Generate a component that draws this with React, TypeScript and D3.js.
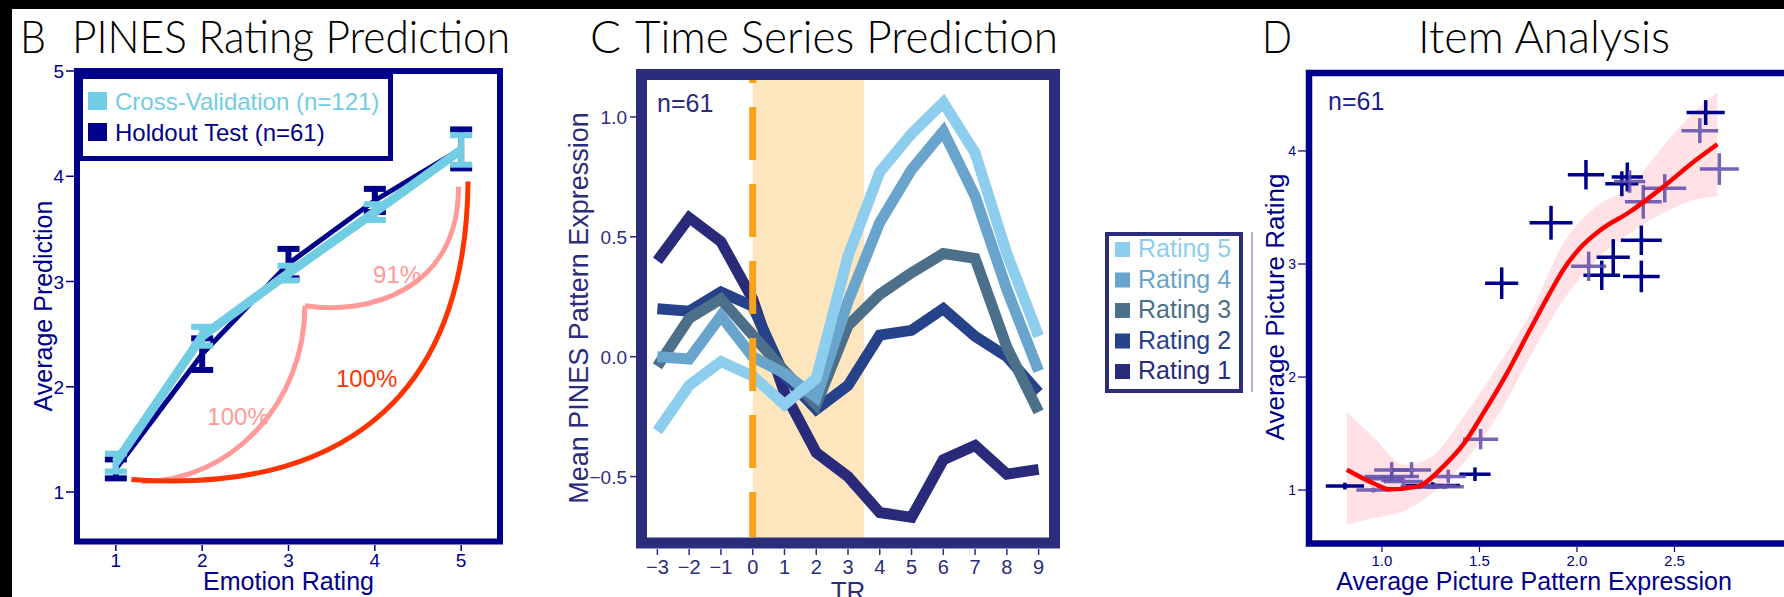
import React, { useEffect, useRef } from 'react';
import * as d3 from 'd3';

// ---------- panel B : rating prediction ----------
const ratings = [1, 2, 3, 4, 5];
const cvMean = [1.28, 2.48, 3.08, 3.66, 4.25];
const cvErr = [0.085, 0.09, 0.07, 0.075, 0.14];
const holdMean = [1.22, 2.31, 3.17, 3.77, 4.26];
const holdErr = [0.09, 0.15, 0.14, 0.11, 0.185];
const yTicksB = [1, 2, 3, 4, 5];
// bracket curves (cubic bezier control points, data units)
const redArc = [[1.18, 1.12], [3.2, 1.0], [5.05, 1.6], [5.08, 3.95]];
const pinkArcLow = [[1.3, 1.1], [2.34, 1.1], [3.19, 1.85], [3.19, 2.77]];
const pinkArcHigh = [[3.19, 2.77], [3.9, 2.68], [4.97, 2.9], [4.97, 3.9]];
const arcLabels = [
  { text: '91%', x: 3.98, y: 2.985, color: '#FF9A98' },
  { text: '100%', x: 2.06, y: 1.634, color: '#FF9A98' },
  { text: '100%', x: 3.55, y: 2.0, color: '#FF3300' },
];

// ---------- panel C : time series ----------
const trs = [-3, -2, -1, 0, 1, 2, 3, 4, 5, 6, 7, 8, 9];
const rating1 = [0.4, 0.58, 0.48, 0.24, -0.15, -0.4, -0.5, -0.65, -0.67, -0.43, -0.37, -0.49, -0.47];
const rating2 = [0.2, 0.19, 0.27, 0.21, -0.08, -0.22, -0.12, 0.09, 0.11, 0.2, 0.085, 0.0, -0.15];
const rating3 = [-0.04, 0.16, 0.24, 0.09, -0.06, -0.2, 0.13, 0.26, 0.35, 0.43, 0.41, 0.04, -0.23];
const rating4 = [0.0, -0.01, 0.17, 0.0, -0.07, -0.17, 0.23, 0.56, 0.78, 0.94, 0.67, 0.28, -0.06];
const rating5 = [-0.31, -0.12, -0.02, -0.08, -0.2, -0.09, 0.42, 0.77, 0.93, 1.06, 0.85, 0.43, 0.085];
const seriesNames = ['Rating 1', 'Rating 2', 'Rating 3', 'Rating 4', 'Rating 5'];
const seriesColors = ['#2A2A7B', '#26428A', '#4C7089', '#69A4CD', '#8DCDEE'];
const yTicksC = [-0.5, 0.0, 0.5, 1.0];
const stimWindow = [0, 3.5];

// ---------- panel D : item analysis ----------
const fitX = [0.82, 0.956, 1.04, 1.18, 1.315, 1.42, 1.52, 1.64, 1.76, 1.86, 1.93, 2.015, 2.12, 2.27, 2.44, 2.61, 2.72];
const fitY = [1.18, 1.06, 1.006, 1.03, 1.21, 1.41, 1.68, 2.03, 2.42, 2.74, 2.95, 3.14, 3.3, 3.46, 3.68, 3.92, 4.06];
const bandX = [0.82, 0.956, 1.12, 1.25, 1.42, 1.59, 1.76, 1.93, 2.1, 2.27, 2.44, 2.61, 2.72];
const bandLo = [0.69, 0.75, 0.82, 0.96, 1.24, 1.65, 2.18, 2.68, 3.04, 3.27, 3.45, 3.57, 3.6];
const bandHi = [1.69, 1.47, 1.22, 1.29, 1.65, 2.09, 2.56, 3.18, 3.51, 3.68, 4.04, 4.36, 4.52];
// [x, y, xErr, yErr]
const navyItems = [
  [2.66, 4.34, 0.098, 0.11],
  [2.046, 3.79, 0.093, 0.13],
  [2.258, 3.77, 0.08, 0.128],
  [2.23, 3.71, 0.085, 0.11],
  [1.867, 3.365, 0.11, 0.15],
  [2.33, 3.21, 0.105, 0.13],
  [2.186, 3.06, 0.085, 0.16],
  [2.127, 2.9, 0.094, 0.13],
  [2.33, 2.89, 0.094, 0.14],
  [1.614, 2.83, 0.085, 0.14],
  [1.477, 1.14, 0.08, 0.06],
  [0.81, 1.035, 0.098, 0.03],
  [1.26, 1.04, 0.14, 0.03],
];
const purpleItems = [
  [2.63, 4.18, 0.094, 0.11],
  [2.73, 3.84, 0.1, 0.14],
  [2.27, 3.73, 0.08, 0.1],
  [2.45, 3.67, 0.11, 0.125],
  [2.34, 3.55, 0.094, 0.15],
  [2.06, 2.98, 0.09, 0.13],
  [1.506, 1.45, 0.09, 0.09],
  [0.956, 1.0, 0.087, 0.02],
  [1.05, 1.177, 0.09, 0.07],
  [1.152, 1.177, 0.1, 0.07],
  [1.05, 1.12, 0.14, 0.04],
  [1.11, 1.075, 0.1, 0.03],
  [1.007, 1.1, 0.1, 0.03],
  [1.34, 1.12, 0.09, 0.06],
  [1.195, 1.03, 0.1, 0.02],
  [1.24, 1.03, 0.1, 0.02],
  [1.28, 1.035, 0.1, 0.02],
  [1.32, 1.03, 0.1, 0.02],
];
const xTicksD = [1.0, 1.5, 2.0, 2.5];
const yTicksD = [1, 2, 3, 4];

const SANS = '"Liberation Sans", Arial, Helvetica, sans-serif';
const TITLE = 'Lato, Roboto, sans-serif';

const App = () => {
  const ref = useRef<SVGSVGElement>(null);

  useEffect(() => {
    const svg = d3.select(ref.current);
    svg.selectAll('*').remove();
    svg.style('font-family', SANS);

    svg.append('rect').attr('width', 1784).attr('height', 597).attr('fill', '#fff');
    svg.append('rect').attr('width', 1784).attr('height', 9).attr('fill', '#000');
    svg.append('rect').attr('width', 12).attr('height', 597).attr('fill', '#000');

    // panel titles, widths matched to the figure
    const title = (x: number, text: string, w: number) =>
      svg.append('text').attr('x', x).attr('y', 53)
        .style('font-family', TITLE).style('font-weight', 300).style('font-size', '45px')
        .attr('textLength', w).attr('lengthAdjust', 'spacingAndGlyphs')
        .attr('fill', '#000').text(text);

    title(20, 'B', 26);
    title(72, 'PINES Rating Prediction', 438);
    title(590, 'C', 31);
    title(635, 'Time Series Prediction', 423);
    title(1262, 'D', 30);
    title(1418, 'Item Analysis', 252);

    // ================= B =================
    const navy = '#00008B';
    const cv = '#70CDE3';
    const xB = d3.scaleLinear().domain([0.55, 5.45]).range([77, 500]);
    const yB = d3.scaleLinear().domain([0.53, 5.0]).range([541.5, 71]);
    const gB = svg.append('g');

    const bez = (pts: number[][], xs: any, ys: any) =>
      `M${xs(pts[0][0])},${ys(pts[0][1])} C${pts.slice(1).map(p => `${xs(p[0])},${ys(p[1])}`).join(' ')}`;

    gB.append('path').attr('d', bez(pinkArcLow, xB, yB)).attr('fill', 'none')
      .attr('stroke', '#FF9A98').attr('stroke-width', 5);
    gB.append('path').attr('d', bez(pinkArcHigh, xB, yB)).attr('fill', 'none')
      .attr('stroke', '#FF9A98').attr('stroke-width', 5);
    gB.append('path').attr('d', bez(redArc, xB, yB)).attr('fill', 'none')
      .attr('stroke', '#FF3300').attr('stroke-width', 5);
    arcLabels.forEach(l => {
      gB.append('text').attr('x', xB(l.x)).attr('y', yB(l.y)).attr('fill', l.color)
        .style('font-size', '24px').text(l.text);
    });

    const lineB = d3.line<number>().x((d, i) => xB(ratings[i])).y(d => yB(d));
    const errBars = (mean: number[], err: number[], color: string) => {
      mean.forEach((m, i) => {
        const x = xB(ratings[i]);
        gB.append('line').attr('x1', x).attr('x2', x).attr('y1', yB(m - err[i])).attr('y2', yB(m + err[i]))
          .attr('stroke', color).attr('stroke-width', 6);
        [m - err[i], m + err[i]].forEach(v => {
          gB.append('line').attr('x1', x - 11).attr('x2', x + 11).attr('y1', yB(v)).attr('y2', yB(v))
            .attr('stroke', color).attr('stroke-width', 6);
        });
      });
    };
    gB.append('path').datum(holdMean).attr('d', lineB).attr('fill', 'none')
      .attr('stroke', navy).attr('stroke-width', 5);
    errBars(holdMean, holdErr, navy);
    gB.append('path').datum(cvMean).attr('d', lineB).attr('fill', 'none')
      .attr('stroke', cv).attr('stroke-width', 9);
    errBars(cvMean, cvErr, cv);

    gB.append('rect').attr('x', 77).attr('y', 71).attr('width', 423).attr('height', 470.5)
      .attr('fill', 'none').attr('stroke', navy).attr('stroke-width', 6);

    yTicksB.forEach(t => {
      gB.append('line').attr('x1', 66).attr('x2', 74).attr('y1', yB(t)).attr('y2', yB(t))
        .attr('stroke', navy).attr('stroke-width', 1.5);
      gB.append('text').attr('x', 64).attr('y', yB(t) + 7).attr('text-anchor', 'end')
        .attr('fill', navy).style('font-size', '19px').text(t);
    });
    ratings.forEach(t => {
      gB.append('line').attr('x1', xB(t)).attr('x2', xB(t)).attr('y1', 545).attr('y2', 551)
        .attr('stroke', navy).attr('stroke-width', 1.5);
      gB.append('text').attr('x', xB(t)).attr('y', 567).attr('text-anchor', 'middle')
        .attr('fill', navy).style('font-size', '19px').text(t);
    });
    gB.append('text').attr('x', 288.5).attr('y', 590).attr('text-anchor', 'middle')
      .attr('fill', navy).style('font-size', '25px').text('Emotion Rating');
    gB.append('text').attr('transform', 'translate(52,306) rotate(-90)').attr('text-anchor', 'middle')
      .attr('fill', navy).style('font-size', '25px').text('Average Prediction');

    // legend
    gB.append('rect').attr('x', 80.5).attr('y', 76.5).attr('width', 310).attr('height', 82)
      .attr('fill', '#fff').attr('stroke', navy).attr('stroke-width', 5);
    [{ label: 'Cross-Validation (n=121)', color: cv }, { label: 'Holdout Test (n=61)', color: navy }]
      .forEach((d, i) => {
        gB.append('rect').attr('x', 88).attr('y', 92 + i * 31).attr('width', 19).attr('height', 18)
          .attr('fill', d.color);
        gB.append('text').attr('x', 115).attr('y', 110 + i * 31).attr('fill', d.color)
          .style('font-size', '24px').text(d.label);
      });

    // ================= C =================
    const ink = '#2B2C7C';
    const xC = d3.scaleLinear().domain([-3.5, 9.5]).range([641.5, 1054.5]);
    const yC = d3.scaleLinear().domain([-0.777, 1.177]).range([543, 74.5]);
    const gC = svg.append('g');

    gC.append('rect').attr('x', xC(stimWindow[0])).attr('y', 74.5)
      .attr('width', xC(stimWindow[1]) - xC(stimWindow[0])).attr('height', 468.5).attr('fill', '#FDE6BE');

    const allSeries = [rating1, rating2, rating3, rating4, rating5];
    const lineC = d3.line<number>().x((d, i) => xC(trs[i])).y(d => yC(d));
    allSeries.forEach((s, i) => {
      gC.append('path').datum(s).attr('d', lineC).attr('fill', 'none')
        .attr('stroke', seriesColors[i]).attr('stroke-width', 11).attr('stroke-linejoin', 'miter');
    });

    gC.append('line').attr('x1', xC(0)).attr('x2', xC(0)).attr('y1', 80).attr('y2', 537)
      .attr('stroke', '#F7A21B').attr('stroke-width', 7)
      .attr('stroke-dasharray', '53,24').attr('stroke-dashoffset', 50);

    gC.append('rect').attr('x', 641.5).attr('y', 74.5).attr('width', 413).attr('height', 468.5)
      .attr('fill', 'none').attr('stroke', ink).attr('stroke-width', 11);

    gC.append('text').attr('x', 657).attr('y', 112).attr('fill', ink).style('font-size', '25px').text('n=61');

    yTicksC.forEach(t => {
      gC.append('line').attr('x1', 630).attr('x2', 636).attr('y1', yC(t)).attr('y2', yC(t))
        .attr('stroke', ink).attr('stroke-width', 1.5);
      gC.append('text').attr('x', 627).attr('y', yC(t) + 7).attr('text-anchor', 'end')
        .attr('fill', ink).style('font-size', '19px').text(d3.format('.1f')(t).replace('-', '\u2212'));
    });
    trs.forEach(t => {
      gC.append('line').attr('x1', xC(t)).attr('x2', xC(t)).attr('y1', 549).attr('y2', 555)
        .attr('stroke', ink).attr('stroke-width', 1.5);
      gC.append('text').attr('x', xC(t)).attr('y', 574).attr('text-anchor', 'middle')
        .attr('fill', ink).style('font-size', '20px').text(String(t).replace('-', '\u2212'));
    });
    gC.append('text').attr('x', 848).attr('y', 600).attr('text-anchor', 'middle')
      .attr('fill', ink).style('font-size', '26px').text('TR');
    gC.append('text').attr('transform', 'translate(588,308) rotate(-90)').attr('text-anchor', 'middle')
      .attr('fill', ink).style('font-size', '27px').text('Mean PINES Pattern Expression');

    // legend C
    gC.append('rect').attr('x', 1107).attr('y', 234).attr('width', 134).attr('height', 157)
      .attr('fill', '#fff').attr('stroke', ink).attr('stroke-width', 4);
    [4, 3, 2, 1, 0].forEach((si, i) => {
      gC.append('rect').attr('x', 1115).attr('y', 242 + i * 30.5).attr('width', 15).attr('height', 15)
        .attr('fill', seriesColors[si]);
      gC.append('text').attr('x', 1138).attr('y', 257 + i * 30.5).attr('fill', seriesColors[si])
        .style('font-size', '25px').text(seriesNames[si]);
    });
    gC.append('line').attr('x1', 1252).attr('x2', 1252).attr('y1', 232).attr('y2', 392)
      .attr('stroke', '#9A9ABF').attr('stroke-width', 1.5);

    // ================= D =================
    const xD = d3.scaleLinear().domain([0.626, 3.2]).range([1309, 1811]);
    const yD = d3.scaleLinear().domain([0.527, 4.69]).range([543.5, 73]);
    const gD = svg.append('g');

    const band = d3.area<number>().x((d, i) => xD(bandX[i])).y0(d => yD(d)).y1((d, i) => yD(bandHi[i]))
      .curve(d3.curveMonotoneX);
    gD.append('path').datum(bandLo).attr('d', band).attr('fill', '#FFE1E6');

    const crosses = (items: number[][], color: string, op: number) => {
      items.forEach(([x, y, xe, ye]) => {
        const g = gD.append('g').attr('opacity', op);
        g.append('line').attr('x1', xD(x - xe)).attr('x2', xD(x + xe)).attr('y1', yD(y)).attr('y2', yD(y))
          .attr('stroke', color).attr('stroke-width', 3.5);
        g.append('line').attr('x1', xD(x)).attr('x2', xD(x)).attr('y1', yD(y - ye)).attr('y2', yD(y + ye))
          .attr('stroke', color).attr('stroke-width', 3.5);
        g.append('circle').attr('cx', xD(x)).attr('cy', yD(y)).attr('r', 2.5).attr('fill', color);
      });
    };
    crosses(navyItems, '#00008B', 1);
    crosses(purpleItems, '#5E4CAA', 0.85);

    const fit = d3.line<number>().x((d, i) => xD(fitX[i])).y(d => yD(d)).curve(d3.curveMonotoneX);
    gD.append('path').datum(fitY).attr('d', fit).attr('fill', 'none')
      .attr('stroke', '#FF0000').attr('stroke-width', 4.5);

    gD.append('rect').attr('x', 1309).attr('y', 73).attr('width', 502).attr('height', 470.5)
      .attr('fill', 'none').attr('stroke', navy).attr('stroke-width', 6.5);

    gD.append('text').attr('x', 1328).attr('y', 110).attr('fill', '#1E1E8C').style('font-size', '25px').text('n=61');

    yTicksD.forEach(t => {
      gD.append('line').attr('x1', 1298).attr('x2', 1306).attr('y1', yD(t)).attr('y2', yD(t))
        .attr('stroke', navy).attr('stroke-width', 1.2);
      gD.append('text').attr('x', 1296).attr('y', yD(t) + 5).attr('text-anchor', 'end')
        .attr('fill', navy).style('font-size', '14px').text(t);
    });
    xTicksD.forEach(t => {
      gD.append('line').attr('x1', xD(t)).attr('x2', xD(t)).attr('y1', 547).attr('y2', 552)
        .attr('stroke', navy).attr('stroke-width', 1.2);
      gD.append('text').attr('x', xD(t)).attr('y', 566).attr('text-anchor', 'middle')
        .attr('fill', navy).style('font-size', '15px').text(d3.format('.1f')(t));
    });
    gD.append('text').attr('x', 1534).attr('y', 590).attr('text-anchor', 'middle')
      .attr('fill', navy).style('font-size', '25px').text('Average Picture Pattern Expression');
    gD.append('text').attr('transform', 'translate(1284,307) rotate(-90)').attr('text-anchor', 'middle')
      .attr('fill', navy).style('font-size', '26px').text('Average Picture Rating');
  }, []);

  return (
    <svg
      ref={ref}
      width={1784}
      height={597}
      style={{ position: 'absolute', left: 0, top: 0, display: 'block' }}
    />
  );
};

export default App;
